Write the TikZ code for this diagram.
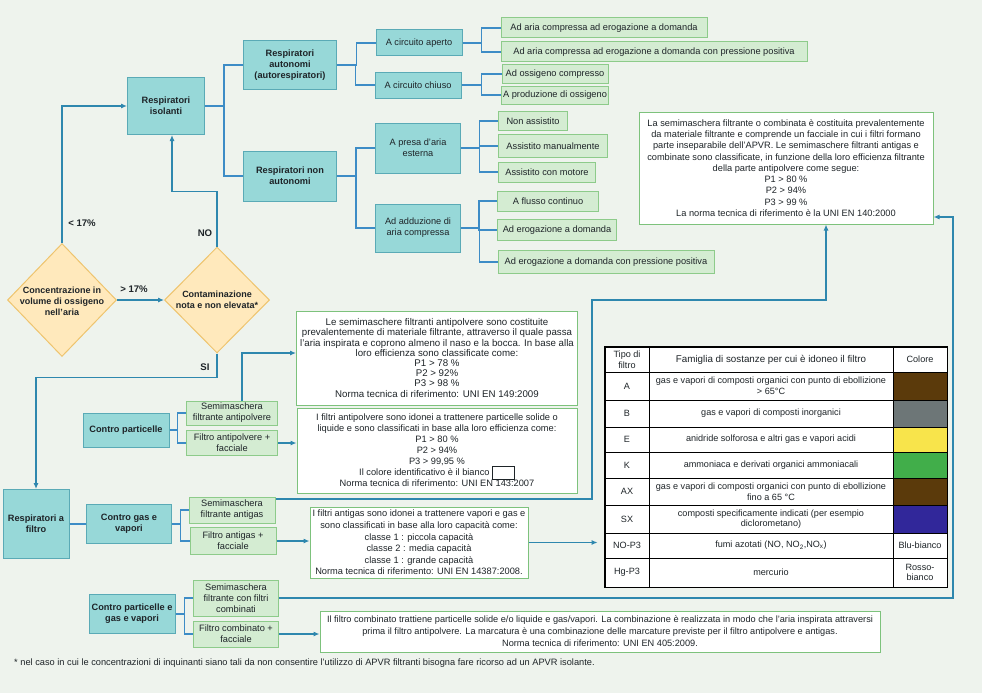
\documentclass[tikz,border=0pt]{standalone}
\usepackage{fontspec}
\setmainfont{Liberation Sans}
\usetikzlibrary{arrows.meta, calc, shapes.geometric}

\definecolor{bgc}{HTML}{EEF3ED}
\definecolor{cyf}{HTML}{97D8D8}
\definecolor{cyb}{HTML}{5AAAB6}
\definecolor{grf}{HTML}{D4ECD2}
\definecolor{grb}{HTML}{8DCB8A}
\definecolor{dmf}{HTML}{FFE9BC}
\definecolor{dmb}{HTML}{EEC46E}
\definecolor{txb}{HTML}{7DC27C}
\definecolor{lnc}{HTML}{3D8CC6}
\definecolor{arc}{HTML}{2E87AE}
\definecolor{ink}{HTML}{1E2428}
\definecolor{cbrown}{HTML}{5B3A0B}
\definecolor{cgray}{HTML}{6D7677}
\definecolor{cyel}{HTML}{F8E44B}
\definecolor{cgreen}{HTML}{41AE4A}
\definecolor{cblue}{HTML}{31279A}

\begin{document}
\begin{tikzpicture}[x=1pt, y=-1pt,
  every node/.style={text=ink, inner sep=1pt},
  wh/.style 2 args={minimum width=#1, minimum height=#2},
  cy/.style={draw=cyb, fill=cyf, line width=1pt, align=center, font=\fontsize{9.2}{11}\selectfont},
  cyk/.style={cy, font=\fontsize{9.2}{11}\selectfont\bfseries},
  gr/.style={draw=grb, fill=grf, line width=1pt, align=center, font=\fontsize{9.25}{11}\selectfont},
  dm/.style={diamond, draw=dmb, fill=dmf, line width=1pt, inner sep=0pt, shape aspect=1},
  tbox/.style={draw=txb, fill=white, line width=1pt, align=center},
  lab/.style={font=\fontsize{9}{11}\selectfont\bfseries, align=center},
  tabf/.style={font=\fontsize{9.1}{10.7}\selectfont, align=center},
  lk/.style={draw=lnc, line width=1.1pt},
  ar/.style={draw=arc, line width=1.1pt, -{Latex[length=6pt,width=5pt]}}]
\fill[bgc] (0,0) rectangle (982,693);
\useasboundingbox (0,0) rectangle (982,693);

% isolanti
\node[cyk, wh={77}{57}] (ris) at (166,106) {Respiratori\\isolanti};
\node[cyk, wh={93}{49}] (aut) at (290,65) {Respiratori\\autonomi\\(autorespiratori)};
\node[cyk, wh={93}{50}] (nonaut) at (290,176) {Respiratori non\\autonomi};
\node[cy, wh={86}{26}] (aperto) at (419,43) {A circuito aperto};
\node[cy, wh={86}{26}] (chiuso) at (418,85) {A circuito chiuso};
\node[cy, wh={85}{50}] (presa) at (418,148) {A presa d'aria\\esterna};
\node[cy, wh={85}{48}] (adduz) at (418,228) {Ad adduzione di\\aria compressa};

\node[gr, wh={206}{20}] (l1) at (604,28) {Ad aria compressa ad erogazione a domanda};
\node[gr, wh={306}{20}] (l2) at (654,52) {Ad aria compressa ad erogazione a domanda con pressione positiva};
\node[gr, wh={106}{18}] (l3) at (555,74) {Ad ossigeno compresso};
\node[gr, wh={107}{18}] (l4) at (555,95) {A produzione di ossigeno};
\node[gr, wh={69}{19}] (l5) at (533,121) {Non assistito};
\node[gr, wh={109}{23}] (l6) at (553,146) {Assistito manualmente};
\node[gr, wh={97}{20}] (l7) at (547,172) {Assistito con motore};
\node[gr, wh={101}{20}] (l8) at (548,201) {A flusso continuo};
\node[gr, wh={119}{21}] (l9) at (557,230) {Ad erogazione a domanda};
\node[gr, wh={216}{23}] (l10) at (606,262) {Ad erogazione a domanda con pressione positiva};

% decisioni
\node[dm, wh={109}{113}] (d1) at (62,300) {};
\node[lab] (d1t) at (62,301) {Concentrazione in\\volume di ossigeno\\nell'aria};
\node[dm, wh={105}{106}] (d2) at (217,300) {};
\node[lab] (d2t) at (217,300) {Contaminazione\\nota e non elevata*};
\node[lab, font=\fontsize{9.6}{11}\selectfont\bfseries] (lt) at (82,223) {< 17\%};
\node[lab, font=\fontsize{9.6}{11}\selectfont\bfseries] (gt) at (134,289) {> 17\%};
\node[lab, font=\fontsize{9.6}{11}\selectfont\bfseries] (no) at (205,233) {NO};
\node[lab, font=\fontsize{9.6}{11}\selectfont\bfseries] (si) at (205,367) {SI};

% filtro
\node[cyk, wh={66}{69}] (filtro) at (36,524) {Respiratori a\\filtro};
\node[cyk, wh={86}{34}] (part) at (126,430) {Contro particelle};
\node[cyk, wh={85}{39}] (gasv) at (129,524) {Contro gas e\\vapori};
\node[cyk, wh={86}{39}] (partgas) at (132,614) {Contro particelle e\\gas e vapori};
\node[gr, wh={91}{24}] (sm1) at (232,413) {Semimaschera\\filtrante antipolvere};
\node[gr, wh={91}{25}] (fa1) at (232,443) {Filtro antipolvere +\\facciale};
\node[gr, wh={86}{26}] (sm2) at (232,510) {Semimaschera\\filtrante antigas};
\node[gr, wh={86}{27}] (fa2) at (233,541) {Filtro antigas +\\facciale};
\node[gr, wh={85}{36}] (sm3) at (236,598) {Semimaschera\\filtrante con filtri\\combinati};
\node[gr, wh={85}{26}] (fa3) at (236,634) {Filtro combinato +\\facciale};

% testi
\node[tbox, wh={294}{112}, font=\fontsize{9.25}{11.3}\selectfont] (t0) at (786,168) {La semimaschera filtrante o combinata è costituita prevalentemente\\da materiale filtrante e comprende un facciale in cui i filtri formano\\parte inseparabile dell'APVR. Le semimaschere filtranti antigas e\\combinate sono classificate, in funzione della loro efficienza filtrante\\della parte antipolvere come segue:\\P1 > 80 \%\\P2 > 94\%\\P3 > 99 \%\\La norma tecnica di riferimento è la UNI EN 140:2000};
\node[tbox, wh={281}{94}, inner sep=0pt, font=\fontsize{9.7}{10.2}\selectfont] (t1) at (437,358) {Le semimaschere filtranti antipolvere sono costituite\\prevalentemente di materiale filtrante, attraverso il quale passa\\l'aria inspirata e coprono almeno il naso e la bocca. In base alla\\loro efficienza sono classificate come:\\P1 > 78 \%\\P2 > 92\%\\P3 > 98 \%\\Norma tecnica di riferimento: UNI EN 149:2009};
\node[tbox, wh={280}{85}, font=\fontsize{9.27}{11}\selectfont] (t2) at (437,450.5) {I filtri antipolvere sono idonei a trattenere particelle solide o\\liquide e sono classificati in base alla loro efficienza come:\\P1 > 80 \%\\P2 > 94\%\\P3 > 99,95 \%\\Il colore identificativo è il bianco {\setlength{\fboxsep}{0pt}\setlength{\fboxrule}{0.8pt}\fbox{\rule[-3pt]{0pt}{12pt}\hspace{21pt}}}\\Norma tecnica di riferimento: UNI EN 143:2007};
\node[tbox, wh={218}{71}, font=\fontsize{9.27}{11.6}\selectfont] (t3) at (419,542.5) {I filtri antigas sono idonei a trattenere vapori e gas e\\sono classificati in base alla loro capacità come:\\classe 1 : piccola capacità\\classe 2 : media capacità\\classe 1 : grande capacità\\Norma tecnica di riferimento: UNI EN 14387:2008.};
\node[tbox, wh={560}{41}, font=\fontsize{9.2}{12}\selectfont] (t4) at (600,631.5) {Il filtro combinato trattiene particelle solide e/o liquide e gas/vapori. La combinazione è realizzata in modo che l'aria inspirata attraversi\\prima il filtro antipolvere. La marcatura è una combinazione delle marcature previste per il filtro antipolvere e antigas.\\Norma tecnica di riferimento: UNI EN 405:2009.};
\node[anchor=west, font=\fontsize{9.25}{10}\selectfont] (nota) at (13,663) {* nel caso in cui le concentrazioni di inquinanti siano tali da non consentire l'utilizzo di APVR filtranti bisogna fare ricorso ad un APVR isolante.};

% tabella
\node[draw=black, fill=white, line width=0.8pt, wh={342}{240}, inner sep=0pt] (tab) at (776,467) {};
\foreach \ya/\yb/\ta/\tb/\tc/\cc [count=\i] in {
  372/400/A/{gas e vapori di composti organici con punto di ebollizione\\> 65°C}/{}/cbrown,
  400/427/B/{gas e vapori di composti inorganici}/{}/cgray,
  427/452/E/{anidride solforosa e altri gas e vapori acidi}/{}/cyel,
  452/478/K/{ammoniaca e derivati organici ammoniacali}/{}/cgreen,
  478/505/AX/{gas e vapori di composti organici con punto di ebollizione\\fino a 65 °C}/{}/cbrown,
  505/533/SX/{composti specificamente indicati (per esempio\\diclorometano)}/{}/cblue,
  533/558/NO-P3/{fumi azotati (NO, NO\textsubscript{2},NO\textsubscript{x})}/{Blu-bianco}/white,
  558/587/Hg-P3/{mercurio}/{Rosso-\\bianco}/white}{
  \fill[\cc] (893,\ya) rectangle (947,\yb);
  \draw[black, line width=0.7pt] (605,\ya) -- (947,\ya);
  \node[tabf] (ra\i) at (627,{(\ya+\yb)/2}) {\ta};
  \node[tabf] (rb\i) at (771,{(\ya+\yb)/2}) {\tb};
  \node[tabf] (rc\i) at (920,{(\ya+\yb)/2}) {\tc};
}
\draw[black, line width=0.7pt] (649,347) -- (649,587) (893,347) -- (893,587);
\draw[black, line width=0.8pt] (tab.north west) rectangle (tab.south east);
\node[tabf] (h1) at (627,359.5) {Tipo di\\filtro};
\node[tabf, font=\fontsize{9.8}{10.7}\selectfont] (h2) at (771,359.5) {Famiglia di sostanze per cui è idoneo il filtro};
\node[tabf] (h3) at (920,359.5) {Colore};

% collegamenti
\foreach \s/\t in {ris/aut, ris/nonaut, aut/aperto, aut/chiuso, nonaut/presa, nonaut/adduz,
  aperto/l1, aperto/l2, chiuso/l3, chiuso/l4, presa/l5, presa/l6, presa/l7,
  adduz/l8, adduz/l9, adduz/l10, part/sm1, part/fa1, gasv/sm2, gasv/fa2, partgas/sm3, partgas/fa3}
  \draw[lk] (\s.east) -| ($(\s.east)!.5!(\t.west)$) |- (\t.west);
\draw[lk] (filtro.east) -- (gasv.west);

\draw[ar] (d1.north) |- (ris.west);
\draw[ar] (d1.east) -- (d2.west);
\draw[ar] (d2.north) -- ++(0,-55) -| ([xshift=6pt]ris.south);
\draw[ar] (d2.south) -- ++(0,24) -| (filtro.north);
\draw[ar] ([xshift=10pt]sm1.north) |- ([yshift=5pt]t1.west);
\draw[ar] (fa1.east) -- (t2.west |- fa1.east);
\draw[ar] (fa2.east) -- (t3.west |- fa2.east);
\draw[ar] (fa3.east) -- (t4.west |- fa3.east);
\draw[ar, shorten >=7pt] (t3.east) -- (tab.west |- t3.east);
\draw[ar] ([yshift=11pt]sm2.east) -| (592,300) -| ([xshift=40pt]t0.south);
\draw[ar] (sm3.east) -- (953,598) |- ([yshift=-49pt]t0.east);
\end{tikzpicture}
\end{document}
